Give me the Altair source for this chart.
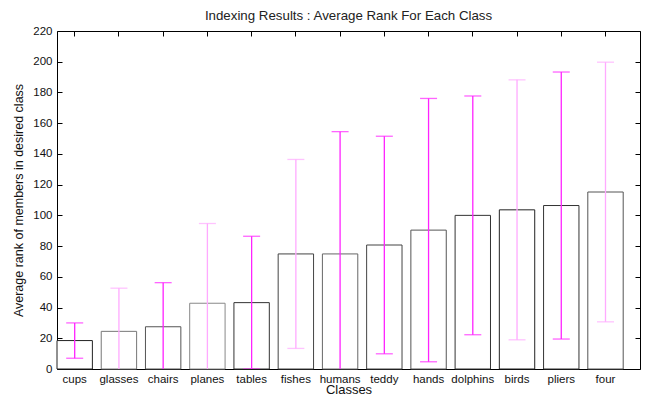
import altair as alt
import pandas as pd

categories = ["cups", "glasses", "chairs", "planes", "tables", "fishes", "humans",
              "teddy", "hands", "dolphins", "birds", "pliers", "four"]
means = [18.5, 24.5, 27.5, 42.8, 43.2, 74.9, 74.9, 80.7, 90.4, 100.0, 103.6, 106.4, 115.2]
errs = [11.5, 28.1, 28.7, 51.9, 43.2, 61.5, 79.6, 70.8, 85.7, 77.7, 84.6, 86.9, 84.5]

# rendering shades (antialiasing look of the original)
err_shades = ["#ff22ff", "#ffaaff", "#ff22ff", "#ffaaff", "#ff22ff", "#ffaaff", "#ff22ff",
              "#ff22ff", "#ff22ff", "#ff22ff", "#ffaaff", "#ff22ff", "#ffaaff"]
edge_shades = ["#222222", "#777777", "#555555", "#888888", "#333333", "#444444", "#666666",
               "#444444", "#555555", "#333333", "#222222", "#333333", "#555555"]

df = pd.DataFrame({
    "cls": categories,
    "mean": means,
    "lo": [m - e for m, e in zip(means, errs)],
    "hi": [m + e for m, e in zip(means, errs)],
    "shade": err_shades,
    "edge": edge_shades,
})

FONT = "Liberation Sans"
xscale = alt.Scale(paddingInner=0.2, paddingOuter=0.19, align=0)
yscale = alt.Scale(domain=[0, 220], nice=False)
yvals = list(range(0, 221, 20))

base = alt.Chart(df)

bars = base.mark_bar(fill="white", strokeWidth=1).encode(
    x=alt.X("cls:N", sort=categories, scale=xscale,
            axis=alt.Axis(orient="bottom", title="Classes", labelAngle=0, tickSize=0,
                          domain=False, labelPadding=4, labelFont=FONT, labelFontSize=11.5,
                          labelColor="#111", titleFont=FONT, titleFontSize=13,
                          titleFontWeight="normal", titleColor="#111", titlePadding=-1)),
    y=alt.Y("mean:Q", scale=yscale,
            axis=alt.Axis(orient="left", title="Average rank of members in desired class",
                          values=yvals, offset=-5, tickSize=5,
                          tickColor="#000", domain=False, grid=False, labelPadding=5,
                          labelFont=FONT, labelFontSize=11.5, labelColor="#111",
                          titleFont=FONT, titleFontSize=12.5, titleFontWeight="normal",
                          titleColor="#111", titlePadding=7)),
    stroke=alt.Stroke("edge:N", scale=None),
)

frame_axes = base.mark_point(opacity=0).encode(
    x=alt.X("cls:N", sort=categories, scale=xscale,
            axis=alt.Axis(orient="top", title=None, labels=False, offset=-5, tickSize=5,
                          tickColor="#000", domain=False)),
    y=alt.Y("mean:Q", scale=yscale,
            axis=alt.Axis(orient="right", title=None, labels=False, offset=-5, tickSize=5,
                          values=yvals, tickColor="#000", domain=False, grid=False)),
)

rules = base.mark_rule(clip=True, strokeWidth=1.3).encode(
    x=alt.X("cls:N", sort=categories, scale=xscale, axis=None),
    y=alt.Y("lo:Q", scale=yscale, axis=None),
    y2="hi:Q",
    color=alt.Color("shade:N", scale=None),
)

caps_hi = base.mark_tick(size=17, thickness=1.3, clip=True).encode(
    x=alt.X("cls:N", sort=categories, scale=xscale, axis=None),
    y=alt.Y("hi:Q", scale=yscale, axis=None),
    color=alt.Color("shade:N", scale=None),
)

caps_lo = base.mark_tick(size=17, thickness=1.3, clip=True).encode(
    x=alt.X("cls:N", sort=categories, scale=xscale, axis=None),
    y=alt.Y("lo:Q", scale=yscale, axis=None),
    color=alt.Color("shade:N", scale=None),
)

chart = alt.layer(bars, frame_axes, rules, caps_hi, caps_lo).properties(
    width=583,
    height=338,
    padding={"left": 49, "top": 23, "right": 1, "bottom": 28},
    autosize=alt.AutoSizeParams(type="none"),
    title=alt.TitleParams("Indexing Results : Average Rank For Each Class",
                          font=FONT, fontSize=13.3, fontWeight="normal", color="#222",
                          offset=3),
).configure_view(stroke="#000", strokeWidth=1)

chart.save("out.html", embed_options={"renderer": "svg", "actions": False})
